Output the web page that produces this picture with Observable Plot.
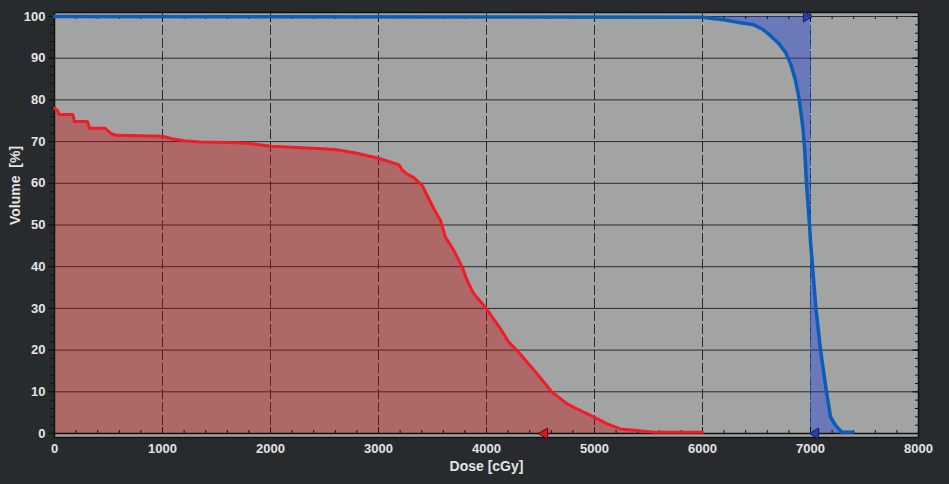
<!DOCTYPE html>
<html>
<head>
<meta charset="utf-8">
<script src="https://cdn.jsdelivr.net/npm/d3@7"></script>
<script src="https://cdn.jsdelivr.net/npm/@observablehq/plot@0.6"></script>
<style>
  html, body { margin: 0; padding: 0; background: #282b2e; }
  #chart svg { display: block; }
</style>
</head>
<body>
<div id="chart"></div>
<script>
// Red structure DVH (dose in cGy, volume in %)
const redDose = [0, 30, 45, 170, 185, 305, 325, 470, 520, 570, 1000, 1100, 1200, 1350, 1600, 1800, 2000, 2300, 2600, 2800, 3000, 3100, 3190, 3220, 3260, 3330, 3404, 3512, 3574, 3620, 3698, 3775, 3821, 3883, 4000, 4130, 4207, 4284, 4377, 4469, 4608, 4747, 4901, 5000, 5117, 5241, 5395, 5549, 6000];
const redVol  = [78, 77.4, 76.5, 76.5, 74.8, 74.8, 73.2, 73.2, 72.0, 71.5, 71.3, 70.6, 70.2, 69.9, 69.8, 69.6, 68.9, 68.5, 68.1, 67.2, 66.0, 65.2, 64.4, 63.2, 62.3, 61.3, 59.5, 53.9, 51.1, 47.1, 43.9, 39.9, 36.7, 33.5, 29.9, 25.1, 21.9, 19.9, 17.1, 14.3, 9.9, 7.1, 5.1, 3.9, 2.3, 1.1, 0.7, 0.3, 0.3];

// Blue structure DVH
const blueDose = [0, 6000, 6197, 6352, 6475, 6553, 6630, 6707, 6769, 6815, 6861, 6892, 6917, 6932, 6945, 6963, 6991, 7000, 7019, 7050, 7093, 7120, 7148, 7185, 7230, 7290, 7390];
const blueVol  = [100, 99.8, 99.2, 98.5, 98.0, 97.0, 95.4, 93.5, 91.4, 88.7, 84.7, 80.7, 75.9, 72.7, 68.5, 60.0, 50.0, 46.0, 40.0, 30.0, 20.0, 15.0, 10.0, 4.0, 2.0, 0.3, 0.3];

const prescriptionDose = 7000;
const redMarkerDose = 4500;

const xTicks = [0, 1000, 2000, 3000, 4000, 5000, 6000, 7000, 8000];
const yTicks = [0, 10, 20, 30, 40, 50, 60, 70, 80, 90, 100];
const xMinor = d3.range(0, 8001, 200);
const yMinor = d3.range(0, 101, 2);

const red = redDose.map((d, i) => ({dose: d, vol: redVol[i]}));
const blue = blueDose.map((d, i) => ({dose: d, vol: blueVol[i]}));
const blueUpper = blue.filter(d => d.dose >= 6000 && d.dose <= prescriptionDose);
const blueLower = blue.filter(d => d.dose >= prescriptionDose);

const W = 949, H = 484, ML = 54, MR = 31, MT = 16, MB = 51;
const FW = W - ML - MR, FH = H - MT - MB;

const gridColor = "#2c2c2c";
const tickColor = "#111";
const textColor = "#e4e4e4";

const chart = Plot.plot({
  width: W, height: H,
  marginLeft: ML, marginRight: MR, marginTop: MT, marginBottom: MB,
  x: {domain: [0, 8000], axis: null},
  y: {domain: [0, 100], axis: null},
  style: {background: "#282b2e", color: textColor, fontFamily: "'Liberation Sans', Arial, sans-serif", fontSize: "13px", fontWeight: "bold"},
  marks: [
    // plot background
    Plot.frame({fill: "#a2a3a3", stroke: null, insetTop: -4, insetBottom: -4}),
    // grid
    Plot.ruleY(yTicks, {stroke: gridColor, strokeWidth: 1}),
    Plot.ruleX(xTicks.filter(d => d > 0 && d < 8000), {stroke: gridColor, strokeWidth: 1, strokeDasharray: "10,3", insetTop: -4}),
    // fills
    Plot.areaY(red, {x: "dose", y: "vol", fill: "#c40000", fillOpacity: 0.36}),
    Plot.areaY(blueUpper, {x: "dose", y1: "vol", y2: 100, fill: "rgb(27,57,217)", fillOpacity: 0.4}),
    Plot.areaY(blueLower, {x: "dose", y: "vol", fill: "rgb(27,57,217)", fillOpacity: 0.4}),
    Plot.ruleX([prescriptionDose], {stroke: "#1a5cc0", strokeWidth: 1, strokeDasharray: "6,3"}),
    // inward minor/major ticks along top, bottom and right edges
    Plot.tickX(xMinor, {x: d => d, stroke: tickColor, insetBottom: FH - 3}),
    Plot.tickX(xTicks, {x: d => d, stroke: tickColor, insetBottom: FH - 6}),
    Plot.tickX(xMinor, {x: d => d, stroke: tickColor, insetTop: FH - 3}),
    Plot.tickX(xTicks, {x: d => d, stroke: tickColor, insetTop: FH - 6}),
    Plot.tickY(yMinor, {y: d => d, stroke: tickColor, insetLeft: FW - 3}),
    Plot.tickY(yTicks, {y: d => d, stroke: tickColor, insetLeft: FW - 6}),
    // outward ticks on left
    Plot.tickY(yMinor, {y: d => d, stroke: tickColor, insetLeft: -4, insetRight: FW}),
    Plot.tickY(yTicks, {y: d => d, stroke: tickColor, insetLeft: -6, insetRight: FW}),
    // frame border lines
    Plot.frame({stroke: tickColor, strokeWidth: 1.5, fill: "none", insetTop: -4, insetBottom: -4}),
    Plot.ruleY([0], {stroke: tickColor, strokeWidth: 1.5}),
    // curves
    Plot.line(red, {x: "dose", y: "vol", stroke: "#f21c26", strokeWidth: 3}),
    Plot.line(blue, {x: "dose", y: "vol", stroke: "#0b5db8", strokeWidth: 3.5}),
    // markers
    Plot.dot([{dose: prescriptionDose, vol: 100}], {x: "dose", y: "vol", symbol: "triangle", r: 4, rotate: 90, dx: -4, fill: "#2840a8", stroke: "#101e60", strokeWidth: 1}),
    Plot.dot([{dose: prescriptionDose, vol: 0}], {x: "dose", y: "vol", symbol: "triangle", r: 4, rotate: -90, dx: 5, fill: "#2840a8", stroke: "#101e60", strokeWidth: 1}),
    Plot.dot([{dose: redMarkerDose, vol: 0}], {x: "dose", y: "vol", symbol: "triangle", r: 4, rotate: -90, dx: 4, fill: "#e01820", stroke: "#500808", strokeWidth: 1}),
    // tick labels and axis titles
    Plot.text(xTicks, {x: d => d, frameAnchor: "bottom", dy: 19, text: d => String(d), fill: textColor}),
    Plot.text(yTicks, {y: d => d, frameAnchor: "left", dx: -9, textAnchor: "end", text: d => String(d), fill: textColor}),
    Plot.text(["Dose [cGy]"], {frameAnchor: "bottom", dy: 37, text: d => d, fill: textColor, fontSize: 14}),
    Plot.text(["Volume  [%]"], {frameAnchor: "left", dx: -39, rotate: -90, text: d => d, fill: textColor, fontSize: 14})
  ]
});
document.getElementById("chart").appendChild(chart);
</script>
</body>
</html>
